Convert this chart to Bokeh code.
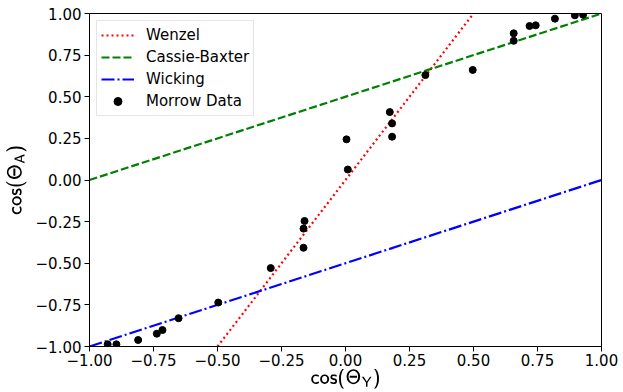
from bokeh.plotting import figure
from bokeh.models import FixedTicker, Range1d, Legend, LegendItem
from bokeh.embed import file_html
from bokeh.resources import INLINE

# Morrow contact-angle measurements: cos(theta_Y) vs cos(theta_A)
morrow_x = [-0.929, -0.895, -0.810, -0.737, -0.715, -0.652, -0.497,
            -0.292, -0.160, -0.164, -0.164, 0.004, 0.009,
            0.173, 0.182, 0.182, 0.312, 0.497,
            0.657, 0.657, 0.719, 0.743, 0.818, 0.896, 0.928]
morrow_y = [-0.987, -0.987, -0.961, -0.923, -0.901, -0.830, -0.736,
            -0.529, -0.246, -0.292, -0.407, 0.244, 0.063,
            0.408, 0.340, 0.260, 0.630, 0.661,
            0.881, 0.836, 0.925, 0.929, 0.969, 0.989, 0.993]

# Model lines, given by their end points
wenzel_x = [-0.5, 0.5]
wenzel_y = [-1.0, 1.0]
cassie_x = [-1.0, 1.0]
cassie_y = [0.0, 1.0]
wicking_x = [-1.0, 1.0]
wicking_y = [-1.0, 0.0]

tick_values = [-1.0, -0.75, -0.5, -0.25, 0.0, 0.25, 0.5, 0.75, 1.0]
tick_labels = ["\u22121.00", "\u22120.75", "\u22120.50", "\u22120.25", "0.00",
               "0.25", "0.50", "0.75", "1.00"]

FONT = "DejaVu Sans"
FS = "15px"

p = figure(width=623, height=392, output_backend="svg", toolbar_location=None,
           x_range=Range1d(-1, 1), y_range=Range1d(-1, 1))
p.min_border_left = 89
p.min_border_right = 22
p.min_border_top = 13
p.min_border_bottom = 46
p.background_fill_color = "white"
p.border_fill_color = "white"
p.outline_line_color = "black"
p.outline_line_width = 1
p.grid.visible = False

labels = dict(zip(tick_values, tick_labels))
for ax in (p.xaxis[0], p.yaxis[0]):
    ax.ticker = FixedTicker(ticks=tick_values)
    ax.major_label_overrides = labels
    ax.minor_tick_line_color = None
    ax.major_tick_in = 0
    ax.major_tick_out = 5
    ax.axis_line_color = "black"
    ax.major_tick_line_color = "black"
    ax.major_label_text_font = FONT
    ax.major_label_text_font_size = FS
    ax.major_label_text_color = "black"
    ax.axis_label_text_font = FONT
    ax.axis_label_text_font_size = FS
    ax.axis_label_text_font_style = "normal"
    ax.axis_label_text_color = "black"
    ax.major_label_standoff = 3

p.xaxis.major_label_standoff = 2
p.xaxis.axis_label = r"$$\mathsf{cos(\Theta_{Y})}$$"
p.yaxis.axis_label = r"$$\mathsf{cos(\Theta_{A})}$$"
p.xaxis.axis_label_standoff = 0
p.yaxis.axis_label_standoff = 6

r_w = p.line(wenzel_x, wenzel_y, line_color="#ff0000", line_width=2.2, line_dash="2 3")
r_c = p.line(cassie_x, cassie_y, line_color="#008000", line_width=2.2, line_dash="8 3")
r_k = p.line(wicking_x, wicking_y, line_color="#0000ff", line_width=2.2, line_dash="13 3 2 3")
r_m = p.scatter(morrow_x, morrow_y, size=7, color="black")

legend = Legend(items=[
    LegendItem(label="Wenzel", renderers=[r_w]),
    LegendItem(label="Cassie-Baxter", renderers=[r_c]),
    LegendItem(label="Wicking", renderers=[r_k]),
    LegendItem(label="Morrow Data", renderers=[r_m]),
], location="top_left")
legend.margin = 7
legend.padding = 4
legend.spacing = 2
legend.glyph_width = 33
legend.glyph_height = 20
legend.label_height = 20
legend.label_standoff = 12
legend.label_text_font = FONT
legend.label_text_font_size = FS
legend.label_text_color = "black"
legend.border_line_color = "#cccccc"
legend.border_line_width = 1
legend.background_fill_color = "white"
legend.background_fill_alpha = 0.8
p.add_layout(legend)

open("out.html", "w").write(file_html(p, INLINE))
